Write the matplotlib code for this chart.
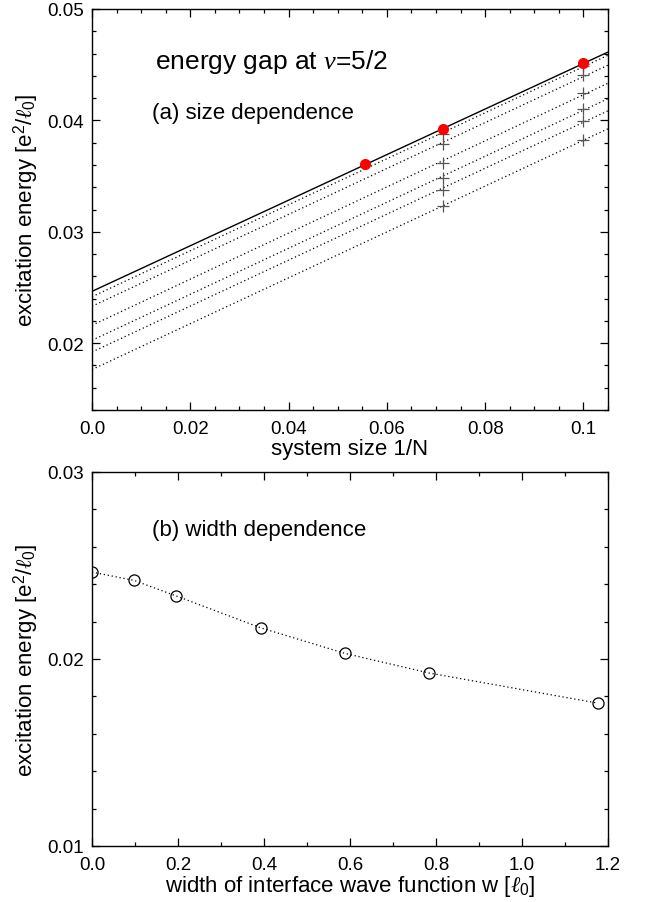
import numpy as np
import matplotlib
matplotlib.use("Agg")
import matplotlib.pyplot as plt
from matplotlib.ticker import MultipleLocator, FixedLocator, FixedFormatter

plt.rcParams['font.family'] = ['Liberation Sans', 'DejaVu Sans']
plt.rcParams['mathtext.fontset'] = 'custom'
plt.rcParams['mathtext.rm'] = 'Liberation Sans'
plt.rcParams['mathtext.it'] = 'Liberation Serif:italic'
plt.rcParams['mathtext.bf'] = 'Liberation Sans:bold'

# ---- data ----
inv_N = [1/18, 1/14, 1/10]                     # system size 1/N
gap_w0 = [0.03606, 0.03921, 0.04513]           # red points (w = 0)
inv_N_cross = [1/14, 1/10]
cross_14 = [0.03880, 0.03784, 0.03617, 0.03486, 0.03378, 0.03231]   # w > 0 at 1/N=1/14
cross_10 = [0.04490, 0.04407, 0.04246, 0.04102, 0.03994, 0.03824]   # w > 0 at 1/N=1/10
widths = [0.0, 0.098, 0.196, 0.392, 0.588, 0.784, 1.176]
gap_inf = [0.02465, 0.02420, 0.02337, 0.02167, 0.02030, 0.01925, 0.01764]  # extrapolated gaps

top_xticks = [0.0, 0.02, 0.04, 0.06, 0.08, 0.1]
top_xlabels = ['0.0', '0.02', '0.04', '0.06', '0.08', '0.1']
top_yticks = [0.02, 0.03, 0.04, 0.05]
top_ylabels = ['0.02', '0.03', '0.04', '0.05']
bot_xticks = [0.0, 0.2, 0.4, 0.6, 0.8, 1.0, 1.2]
bot_xlabels = ['0.0', '0.2', '0.4', '0.6', '0.8', '1.0', '1.2']
bot_yticks = [0.01, 0.02, 0.03]
bot_ylabels = ['0.01', '0.02', '0.03']

fig = plt.figure(figsize=(6.49, 9.03), dpi=100)
W, H = 649, 903
ax1 = fig.add_axes([92/W, (H-411)/H, 516/W, 401/H])
ax2 = fig.add_axes([92/W, (H-847)/H, 516/W, 374/H])

dot = (0, (1, 2.2))
xline = np.array([0.0, 0.105])

# solid fit line for w=0 (through extrapolated point and red points)
xs = np.concatenate([[0.0], inv_N])
ys = np.concatenate([[gap_inf[0]], gap_w0])
p = np.polyfit(xs, ys, 1)
ax1.plot(xline, np.polyval(p, xline), color='black', lw=1.0, solid_capstyle='butt')

for i in range(len(cross_14)):
    xs = [0.0] + inv_N_cross
    ys = [gap_inf[i+1], cross_14[i], cross_10[i]]
    p = np.polyfit(xs, ys, 1)
    ax1.plot(xline, np.polyval(p, xline), color='black', lw=0.9, linestyle=dot)
    ax1.plot(inv_N_cross, [cross_14[i], cross_10[i]], linestyle='none', marker='+',
             color='#555555', markersize=8, markeredgewidth=0.9)

ax1.plot(inv_N, gap_w0, linestyle='none', marker='o', color='#ff0000',
         markersize=8, markeredgewidth=0, zorder=5)

ax1.set_xlim(0.0, 0.105)
ax1.set_ylim(0.014, 0.05)
ax1.xaxis.set_major_locator(FixedLocator(top_xticks))
ax1.xaxis.set_major_formatter(FixedFormatter(top_xlabels))
ax1.xaxis.set_minor_locator(MultipleLocator(0.005))
ax1.yaxis.set_major_locator(FixedLocator(top_yticks))
ax1.yaxis.set_major_formatter(FixedFormatter(top_ylabels))
ax1.yaxis.set_minor_locator(MultipleLocator(0.002))
ax1.set_xlabel('system size 1/N', fontsize=16, labelpad=1)
ax1.set_ylabel(r'excitation energy [e$^{2}$/$\ell_{0}$]', fontsize=16, labelpad=4)
ax1.text(0.122, 0.870, r'energy gap at $\nu$=5/2', transform=ax1.transAxes,
         fontsize=19, ha='left', va='center')
ax1.text(0.1156, 0.743, '(a) size dependence', transform=ax1.transAxes,
         fontsize=16, ha='left', va='center')

# bottom panel
ax2.plot(widths, gap_inf, color='black', lw=0.9, linestyle=dot)
ax2.plot(widths, gap_inf, linestyle='none', marker='o', markerfacecolor='none',
         markeredgecolor='black', markersize=8, markeredgewidth=0.9)
ax2.set_xlim(0.0, 1.2)
ax2.set_ylim(0.01, 0.03)
ax2.xaxis.set_major_locator(FixedLocator(bot_xticks))
ax2.xaxis.set_major_formatter(FixedFormatter(bot_xlabels))
ax2.xaxis.set_minor_locator(MultipleLocator(0.1))
ax2.yaxis.set_major_locator(FixedLocator(bot_yticks))
ax2.yaxis.set_major_formatter(FixedFormatter(bot_ylabels))
ax2.yaxis.set_minor_locator(MultipleLocator(0.002))
ax2.set_xlabel(r'width of interface wave function w [$\ell_{0}$]', fontsize=16, labelpad=0)
ax2.set_ylabel(r'excitation energy [e$^{2}$/$\ell_{0}$]', fontsize=16, labelpad=4)
ax2.text(0.116, 0.845, '(b) width dependence', transform=ax2.transAxes,
         fontsize=16, ha='left', va='center')

for ax in (ax1, ax2):
    for s in ax.spines.values():
        s.set_linewidth(1.0)
    ax.tick_params(which='both', direction='in', top=True, right=True,
                   labelsize=13.5, width=0.9)
    ax.tick_params(axis='x', which='both', pad=7)
    ax.tick_params(axis='y', which='both', pad=6)
    ax.tick_params(which='major', length=6)
    ax.tick_params(which='minor', length=3)

fig.savefig('out.png', dpi=100)
